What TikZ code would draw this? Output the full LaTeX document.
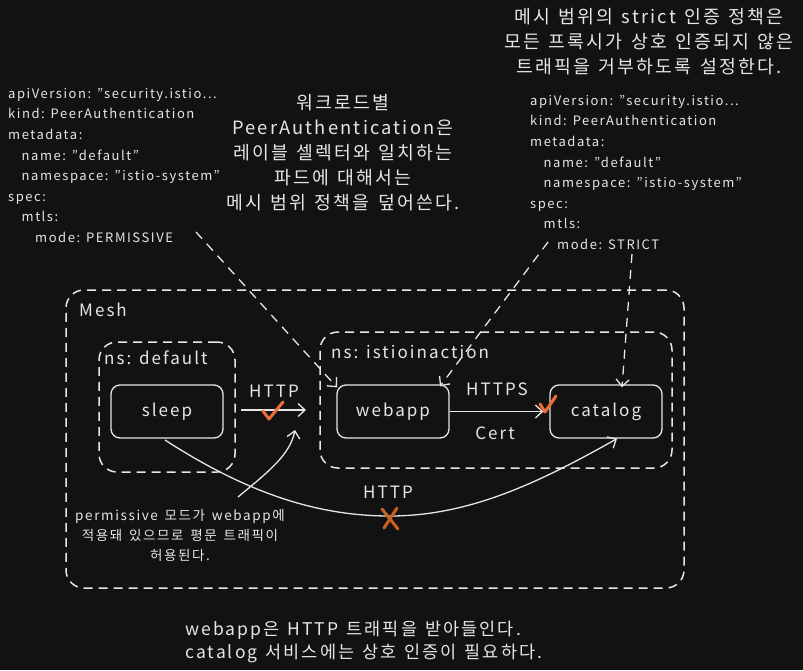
\documentclass[tikz,border=0pt]{standalone}
\usepackage{fontspec}
\setmainfont[LetterSpace=12]{Noto Sans CJK KR}
\usetikzlibrary{arrows.meta}
\definecolor{bg}{HTML}{121212}
\definecolor{fg}{HTML}{E6E6E6}
\definecolor{ok}{HTML}{F26B3A}
\definecolor{bad}{HTML}{C9611C}
\begin{document}
\begin{tikzpicture}[x=1pt,y=-1pt,
  every node/.style={text=fg},
  zone/.style={draw=fg, dashed, dash pattern=on 9pt off 6pt, rounded corners=18pt, line width=1.5pt},
  svc/.style={draw=fg, rounded corners=9pt, line width=1.3pt, minimum width=112pt, minimum height=53pt, font=\fontsize{17}{19}\selectfont},
  lbl/.style={font=\fontsize{17}{19}\selectfont, inner sep=0pt},
  code/.style={font=\fontsize{13}{20.6}\selectfont, align=left, inner sep=0pt, anchor=north west},
  note/.style={font={\fontsize{18.3}{25}\selectfont\spaceskip=0.45em\relax}, align=center, inner sep=0pt},
  small/.style={font={\fontsize{13.5}{20}\selectfont\spaceskip=0.5em\relax}, align=center, inner sep=0pt},
  bottomline/.style={font={\fontsize{17.5}{23}\selectfont\spaceskip=0.45em\relax}, inner sep=0pt, anchor=base west},
  arr/.style={draw=fg, line width=1.3pt, -{Straight Barb[length=7pt,width=13pt]}},
  darr/.style={arr, dashed, dash pattern=on 9pt off 7pt},
  okmark/.style={draw=ok, line width=3pt, line cap=round, line join=round},
  badmark/.style={draw=bad, line width=3pt, line cap=round}
]
\fill[bg] (0,0) rectangle (803,670);
\useasboundingbox (0,0) rectangle (803,670);

% zones
\node[zone, minimum width=618pt, minimum height=298pt] (mesh) at (375,439) {};
\node[lbl, anchor=west] (meshlbl) at (79,310) {Mesh};
\node[zone, minimum width=136pt, minimum height=130pt] (nsdef) at (167,407) {};
\node[lbl, anchor=west] (nsdeflbl) at (104,358) {ns: default};
\node[zone, minimum width=352pt, minimum height=136pt] (nsist) at (496,400) {};
\node[lbl, anchor=west] (nsistlbl) at (331,352) {ns: istioinaction};

% services
\node[svc] (sleep) at (167,411.5) {sleep};
\node[svc] (webapp) at (393,411.5) {webapp};
\node[svc] (catalog) at (606,411.5) {catalog};

% sleep -> mesh HTTP (permissive)
\coordinate (httpstart) at (241,410);
\coordinate (httpend) at (306,410);
\draw[arr] (httpstart) -- (httpend);
\node[lbl] (httplbl) at (274,391) {HTTP};
\draw[okmark] (263,411) -- (269,419) -- (283,402);

% webapp -> catalog HTTPS
\draw[arr] (webapp.east) -- ([xshift=-6pt]catalog.west);
\node[lbl] (httpslbl) at (497,389) {HTTPS};
\node[lbl] (certlbl) at (495,433) {Cert};
\draw[okmark] (540,404) -- (545,412) -- (556,396);

% sleep -> catalog HTTP (rejected)
\coordinate (curvestart) at (165,440);
\coordinate (curvemid) at (390,516);
\draw[arr] (curvestart) .. controls (250,495) and (320,516) .. (curvemid) .. controls (470,516) and (540,482) .. ([xshift=11pt]catalog.south);
\node[lbl] (http2lbl) at (388,492) {HTTP};
\draw[badmark] (382,509) -- (398,529);
\draw[badmark] (397,508) -- (384,528);

% permissive note
\node[small] (permnote) at (180,535) {permissive 모드가 webapp에\\적용돼 있으므로 평문 트래픽이\\허용된다.};
\coordinate (permtip) at (295,430);
\draw[arr] (238,497) .. controls (268,472) and (290,455) .. (permtip);

% left yaml
\node[code] (yamlL) at (8,88) {apiVersion: "security.istio...\\kind: PeerAuthentication\\metadata:\\\hspace*{13.5pt}name: "default"\\\hspace*{13.5pt}namespace: "istio-system"\\spec:\\\hspace*{13.5pt}mtls:\\\hspace*{27pt}mode: PERMISSIVE};

% middle note
\node[note, anchor=north] (midnote) at (343,94) {워크로드별\\PeerAuthentication은\\레이블 셀렉터와 일치하는\\파드에 대해서는\\메시 범위 정책을 덮어쓴다.};

% top right note
\node[note, anchor=north] (topnote) at (649,8) {메시 범위의 strict 인증 정책은\\모든 프록시가 상호 인증되지 않은\\트래픽을 거부하도록 설정한다.};

% right yaml
\node[code] (yamlR) at (530,95) {apiVersion: "security.istio...\\kind: PeerAuthentication\\metadata:\\\hspace*{13.5pt}name: "default"\\\hspace*{13.5pt}namespace: "istio-system"\\spec:\\\hspace*{13.5pt}mtls:\\\hspace*{27pt}mode: STRICT};

% dashed pointer arrows
\coordinate (permsrc) at (196,232);
\coordinate (strictsrc) at (548,242);
\coordinate (strictsrc2) at (632,254);
\draw[darr] (permsrc) -- ([xshift=-56pt,yshift=-3pt]webapp.north);
\draw[darr] (strictsrc) -- ([xshift=47pt,yshift=-2pt]webapp.north);
\draw[darr] (strictsrc2) -- ([xshift=16pt,yshift=-3pt]catalog.north);

% bottom note
\node[bottomline] (bottom1) at (185,635) {webapp은 HTTP 트래픽을 받아들인다.};
\node[bottomline] (bottom2) at (185,658) {catalog 서비스에는 상호 인증이 필요하다.};
\end{tikzpicture}
\end{document}
